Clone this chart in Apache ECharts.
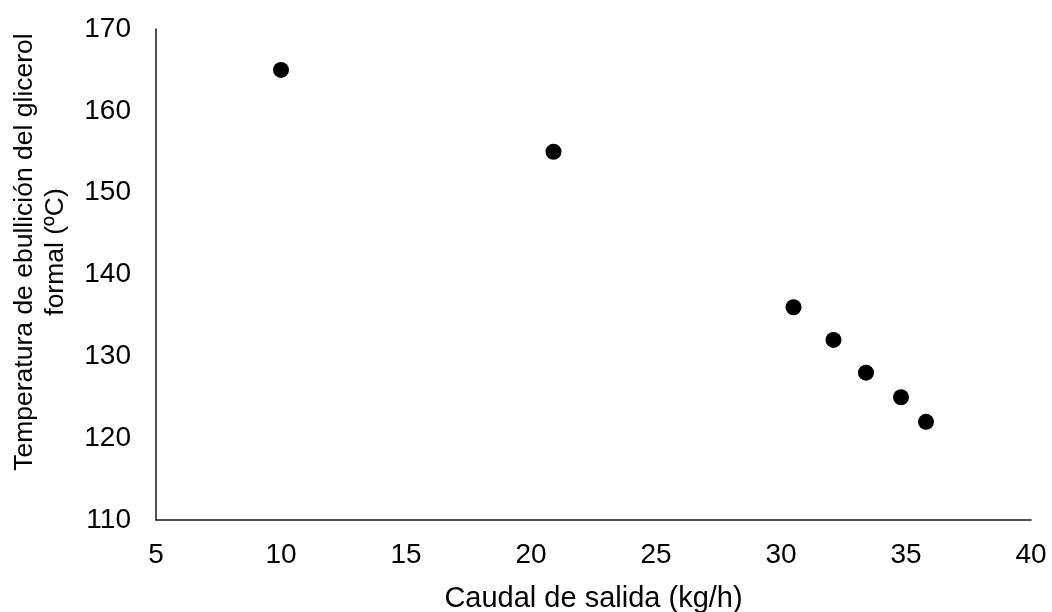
<!DOCTYPE html>
<html>
<head>
<meta charset="utf-8">
<script src="https://cdn.jsdelivr.net/npm/echarts@6/dist/echarts.min.js"></script>
<style>
html,body{margin:0;padding:0;background:#fff;}
#chart{width:1052px;height:612px;}
</style>
</head>
<body>
<div id="chart"></div>
<script>
const caudal = [10.0, 20.9, 30.5, 32.1, 33.4, 34.8, 35.8];
const temperatura = [165, 155, 136, 132, 128, 125, 122];
const xTitle = 'Caudal de salida (kg/h)';
const yTitle = 'Temperatura de ebullición del glicerol\nformal (ºC)';

const points = caudal.map((x, i) => [x, temperatura[i]]);
const FONT = '"Liberation Sans", Arial, sans-serif';

const chart = echarts.init(document.getElementById('chart'));
chart.setOption({
  animation: false,
  backgroundColor: '#fff',
  grid: { left: 156, right: 21, top: 29, bottom: 92, outerBoundsMode: 'none', containLabel: false },
  xAxis: {
    type: 'value', min: 5, max: 40, interval: 5,
    name: xTitle, nameLocation: 'middle', nameGap: 64,
    nameTextStyle: { fontFamily: FONT, fontSize: 29, color: '#000' },
    axisLine: { show: true, lineStyle: { color: '#1a1a1a', width: 1.5 } },
    axisTick: { show: false },
    splitLine: { show: false },
    axisLabel: { fontFamily: FONT, fontSize: 28, color: '#000', margin: 21 }
  },
  yAxis: {
    type: 'value', min: 110, max: 170, interval: 10,
    axisLine: { show: true, lineStyle: { color: '#1a1a1a', width: 1.5 } },
    axisTick: { show: false },
    splitLine: { show: false },
    axisLabel: { fontFamily: FONT, fontSize: 28, color: '#000', margin: 25 }
  },
  graphic: [{
    type: 'text',
    x: 40, y: 252,
    rotation: Math.PI / 2,
    style: {
      text: yTitle,
      font: '26.5px ' + FONT,
      fill: '#000',
      align: 'center',
      verticalAlign: 'middle',
      lineHeight: 31
    }
  }],
  series: [{
    type: 'scatter',
    data: points,
    symbol: 'circle',
    symbolSize: 16,
    itemStyle: { color: '#000', opacity: 1 }
  }]
});
</script>
</body>
</html>
